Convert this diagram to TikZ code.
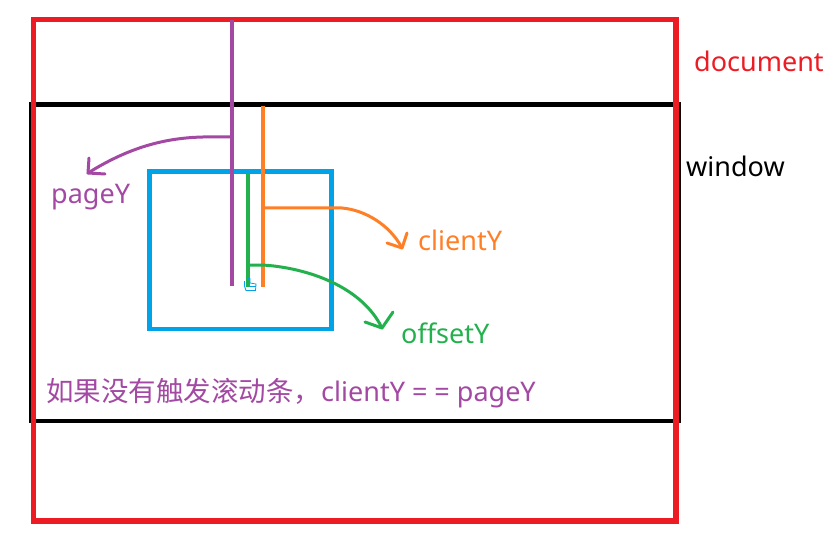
\documentclass[tikz,border=0pt]{standalone}
\usepackage{fontspec}
\setmainfont{Noto Sans}
\newfontfamily\cjk{Noto Sans CJK SC}
\definecolor{docred}{HTML}{ED1C24}
\definecolor{ppurple}{HTML}{A349A4}
\definecolor{porange}{HTML}{FF7F27}
\definecolor{pgreen}{HTML}{22B14C}
\definecolor{pblue}{HTML}{00A2E8}
\begin{document}
\begin{tikzpicture}[x=1pt,y=-1pt,
  lbl/.style={inner sep=0pt, anchor=base west, font=\fontsize{27}{32}\selectfont},
  bar/.style={line width=4pt},
  curvy/.style={line width=3pt, line cap=round, line join=round},
]
\useasboundingbox (0,0) rectangle (834,537);
\fill[white] (0,0) rectangle (834,537);
% window
\draw[line width=4.5pt, black] (31,104.5) rectangle (679,421);
% document
\draw[line width=5.5pt, docred] (33.5,19.5) rectangle (676,521);
% element box
\draw[line width=4.5pt, pblue] (149.5,171.5) rectangle (331.5,329);
% vertical bars
\coordinate (pTop) at (232,20);
\coordinate (pBot) at (232,286);
\coordinate (oTop) at (262.5,106);
\coordinate (oBot) at (262.5,287);
\coordinate (gTop) at (248,173);
\coordinate (gBot) at (248,287);
\draw[bar, ppurple] (pTop) -- (pBot);
\draw[bar, porange] (oTop) -- (oBot);
\draw[bar, pgreen] (gTop) -- (gBot);
% cursor
\draw[pblue, line width=0.8pt] (244.5,281) -- (244.5,286) -- (246,290.5) -- (255.5,290.5) -- (256,284) -- (250,283) -- (250,278.5) -- (247.5,278.5) -- (247.5,284);
\draw[pblue, line width=0.6pt] (250,286) -- (255.5,286);
% labels
\node[lbl, text=docred] (doc) at (694,72) {document};
\node[lbl, text=black] (win) at (686,177) {window};
\node[lbl, text=ppurple] (pagey) at (51,204) {pageY};
\node[lbl, text=porange] (clienty) at (418,251) {clientY};
\node[lbl, text=pgreen] (offsety) at (401,343) {offsetY};
\node[lbl, text=ppurple] (note) at (46,401) {{\cjk\fontsize{27.5}{32}\selectfont 如果没有触发滚动条，}clientY\kern7pt=\kern7pt=\kern7pt pageY};
% pageY arrow
\coordinate (pS) at (232,137);
\coordinate (pTip) at (88,173);
\draw[curvy, ppurple] (pS) -- (203,137) .. controls (160,138) and (125,150) .. (pTip);
\draw[curvy, ppurple] (89,158) -- (pTip) -- (105,174);
% clientY arrow
\coordinate (oS) at (262.5,208);
\coordinate (oTip) at (402,248);
\draw[curvy, porange] (oS) -- (342,208) .. controls (365,210) and (390,225) .. (oTip);
\draw[curvy, porange] (387,243) -- (oTip) -- (407,233);
% offsetY arrow
\coordinate (gS) at (248,265);
\coordinate (gTip) at (382,328);
\draw[curvy, pgreen] (gS) -- (262,265) .. controls (300,267) and (360,283) .. (gTip);
\draw[curvy, pgreen] (365,322) -- (gTip) -- (393,312);
\end{tikzpicture}
\end{document}
